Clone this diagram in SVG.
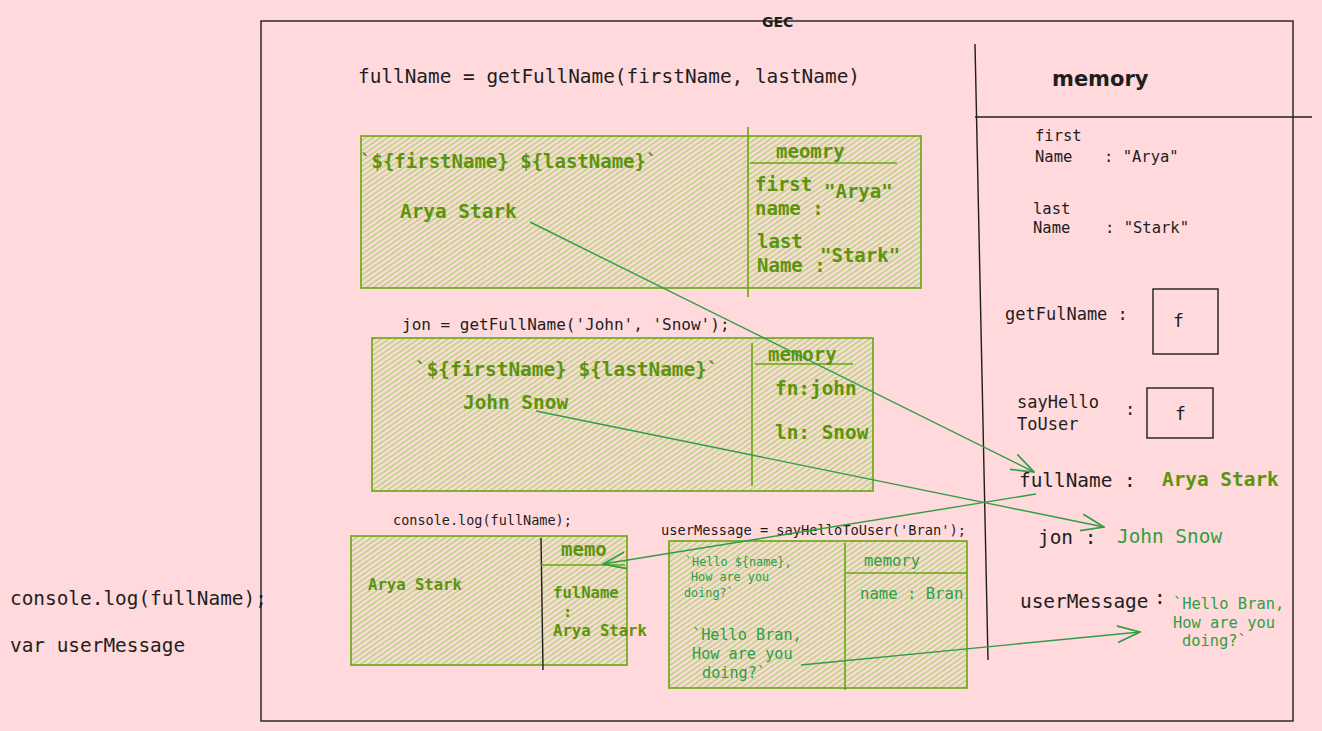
<svg xmlns="http://www.w3.org/2000/svg" width="1322" height="731" viewBox="0 0 1322 731">
<defs>
<pattern id="hach" patternUnits="userSpaceOnUse" width="6" height="6" patternTransform="rotate(10)">
<path d="M-1,1 l2,-2 M0,6 l6,-6 M5,7 l2,-2" stroke="#a9d46c" stroke-width="1.4"/>
</pattern>
<marker id="ah" viewBox="0 0 20 20" refX="19" refY="10" markerWidth="24" markerHeight="24" markerUnits="userSpaceOnUse" orient="auto">
<path d="M0,3 L19,10 L0,17" fill="none" stroke="#2f9e44" stroke-width="1.4"/>
</marker>
<style>
.m{font-family:"DejaVu Sans Mono","Liberation Mono",monospace;}
.k{fill:#1e1e1e;}
.g{fill:#5c940d;font-weight:bold;}
.g2{fill:#2f9e44;}
.hand{font-family:"DejaVu Sans","Liberation Sans",sans-serif;fill:#1e1e1e;}
.box{fill:url(#hach);stroke:#66a80f;stroke-width:1.6;}
.gl{stroke:#66a80f;stroke-width:1.6;fill:none;}
.bl{stroke:#1e1e1e;stroke-width:1.4;fill:none;}
.arr{stroke:#2f9e44;stroke-width:1.4;fill:none;marker-end:url(#ah);}
</style>
</defs>
<rect width="1322" height="731" fill="#ffd9dc"/>

<g id="gec">
<rect x="261" y="21" width="1032" height="700" class="bl"/>
<text x="762" y="27" class="hand" font-size="14" font-weight="bold">GEC</text>
<text x="358" y="83" class="m k" font-size="19.4">fullName = getFullName(firstName, lastName)</text>
</g>

<g id="memory-panel">
<line x1="975" y1="44" x2="988" y2="660" class="bl"/>
<line x1="975" y1="117" x2="1312" y2="117" class="bl"/>
<text x="1052" y="86" class="hand" font-size="21" font-weight="bold">memory</text>
<text x="1035" y="141" class="m k" font-size="15.5">first</text>
<text x="1035" y="162" class="m k" font-size="15.5">Name</text>
<text x="1104" y="162" class="m k" font-size="15.5">: "Arya"</text>
<text x="1033" y="214" class="m k" font-size="15.5">last</text>
<text x="1033" y="233" class="m k" font-size="15.5">Name</text>
<text x="1105" y="233" class="m k" font-size="15.5">: "Stark"</text>
<text x="1005" y="320" class="m k" font-size="17">getFulName :</text>
<rect x="1153" y="289" width="65" height="65" class="bl"/>
<text x="1173" y="327" class="m k" font-size="18">f</text>
<text x="1017" y="408" class="m k" font-size="17">sayHello</text>
<text x="1017" y="430" class="m k" font-size="17">ToUser</text>
<text x="1125" y="415" class="m k" font-size="17">:</text>
<rect x="1147" y="388" width="66" height="50" class="bl"/>
<text x="1175" y="420" class="m k" font-size="18">f</text>
<text x="1019" y="487" class="m k" font-size="19.4">fullName :</text>
<text x="1162" y="486" class="m g" font-size="19.4">Arya Stark</text>
<text x="1038" y="544" class="m k" font-size="19.4">jon :</text>
<text x="1117" y="543" class="m g2" font-size="19.4">John Snow</text>
<text x="1020" y="608" class="m k" font-size="19.4">userMessage</text>
<text x="1154" y="604" class="m k" font-size="19.4">:</text>
<text x="1173" y="609" class="m g2" font-size="15.4">`Hello Bran,</text>
<text x="1173" y="628" class="m g2" font-size="15.4">How are you</text>
<text x="1182" y="646" class="m g2" font-size="15.4">doing?`</text>
</g>

<g id="box-fullname">
<rect x="361" y="136" width="560" height="152" class="box"/>
<line x1="748" y1="127" x2="748" y2="297" class="gl"/>
<line x1="750" y1="163" x2="897" y2="163" class="gl"/>
<text x="360" y="168" class="m g" font-size="19">`${firstName} ${lastName}`</text>
<text x="400" y="218" class="m g" font-size="19.4">Arya Stark</text>
<text x="776" y="158" class="m g" font-size="19">meomry</text>
<text x="755" y="191" class="m g" font-size="19">first</text>
<text x="824" y="198" class="m g" font-size="19">"Arya"</text>
<text x="755" y="215" class="m g" font-size="19">name :</text>
<text x="757" y="248" class="m g" font-size="19">last</text>
<text x="757" y="272" class="m g" font-size="19">Name :</text>
<text x="820" y="262" class="m g" font-size="19">"Stark"</text>
</g>

<g id="box-jon">
<text x="402" y="330" class="m k" font-size="16">jon = getFullName('John', 'Snow');</text>
<rect x="372" y="338" width="501" height="153" class="box"/>
<line x1="752" y1="343" x2="752" y2="486" class="gl"/>
<line x1="755" y1="364" x2="853" y2="364" class="gl"/>
<text x="415" y="376" class="m g" font-size="19.4">`${firstName} ${lastName}`</text>
<text x="463" y="409" class="m g" font-size="19.4">John Snow</text>
<text x="768" y="361" class="m g" font-size="19">memory</text>
<text x="775" y="395" class="m g" font-size="19.4">fn:john</text>
<text x="775" y="439" class="m g" font-size="19.4">ln: Snow</text>
</g>

<g id="box-console">
<text x="393" y="525" class="m k" font-size="13.5">console.log(fullName);</text>
<rect x="351" y="536" width="276" height="129" class="box"/>
<line x1="541" y1="538" x2="543" y2="670" class="bl" stroke-width="2"/>
<line x1="541" y1="565" x2="625" y2="565" class="gl"/>
<text x="561" y="556" class="m g" font-size="19">memo</text>
<text x="368" y="590" class="m g" font-size="15.6">Arya Stark</text>
<text x="553" y="598" class="m g" font-size="15.6">fulName</text>
<text x="563" y="617" class="m g" font-size="15.6">:</text>
<text x="553" y="636" class="m g" font-size="15.6">Arya Stark</text>
</g>

<g id="box-usermessage">
<text x="661" y="535" class="m k" font-size="13.7">userMessage = sayHelloToUser('Bran');</text>
<rect x="669" y="541" width="298" height="147" class="box"/>
<line x1="845" y1="543" x2="845" y2="690" class="gl" stroke="#2f9e44"/>
<line x1="846" y1="573" x2="967" y2="573" class="gl" stroke="#2f9e44"/>
<text x="864" y="566" class="m g2" font-size="15.5">memory</text>
<text x="860" y="599" class="m g2" font-size="15.6">name : Bran</text>
<text x="685" y="566" class="m g2" font-size="11.8">`Hello ${name},</text>
<text x="691" y="581" class="m g2" font-size="11.8">How are you</text>
<text x="684" y="597" class="m g2" font-size="11.8">doing?`</text>
<text x="692" y="640" class="m g2" font-size="15.2">`Hello Bran,</text>
<text x="692" y="659" class="m g2" font-size="15.2">How are you</text>
<text x="702" y="678" class="m g2" font-size="15.2">doing?`</text>
</g>

<g id="outside">
<text x="10" y="605" class="m k" font-size="19.4">console.log(fullName);</text>
<text x="10" y="652" class="m k" font-size="19.4">var userMessage</text>
</g>

<g id="connectors">
<path d="M530,222 L1034,472" class="arr"/>
<path d="M1036,494 L603,564" class="arr"/>
<path d="M536,411 L1104,527" class="arr"/>
<path d="M801,665 L1140,632" class="arr"/>
</g>
</svg>
